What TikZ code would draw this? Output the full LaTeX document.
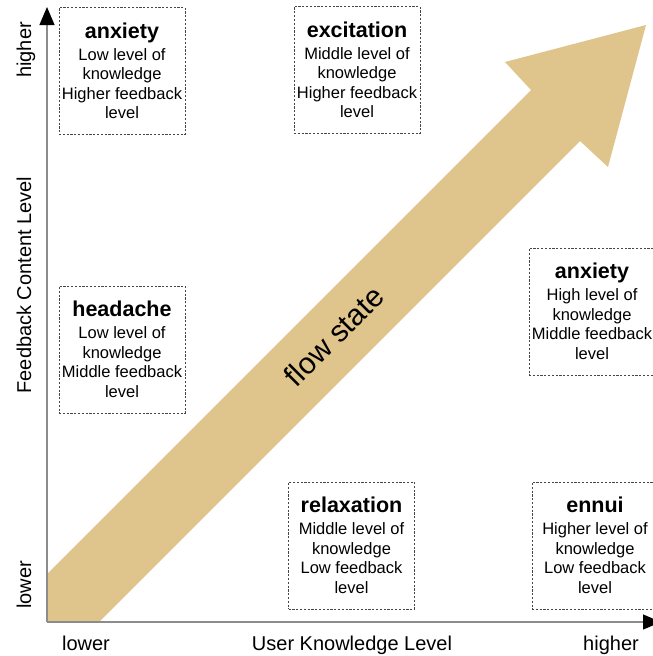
\documentclass[tikz,border=0pt]{standalone}
\usepackage{fontspec}
\setmainfont{Liberation Sans}
\usetikzlibrary{arrows.meta}

\definecolor{flowtan}{RGB}{223,196,139}
\definecolor{axisgray}{RGB}{140,140,140}
\definecolor{boxgray}{RGB}{70,70,70}

\newcommand{\stitle}[1]{{\fontsize{21.5}{23}\selectfont\bfseries #1}}

\begin{document}
\begin{tikzpicture}[x=1pt,y=-1pt,
                state node/.style={draw=boxgray,line width=0.9pt,dash pattern=on 2.2pt off 1.6pt,
                  minimum width=126pt,minimum height=127pt,inner sep=0pt,align=center,
                  font=\fontsize{16.5}{19.5}\selectfont},
                axis/.style={axisgray,line width=1.2pt,-{Triangle[length=18pt,width=15pt,color=black]}},
                axis label/.style={font=\fontsize{20}{24}\selectfont}]
  \clip (0,0) rectangle (653,656);

  % the flow channel
  \fill[flowtan] (47,622) -- (47,574) -- (531,90) -- (505,62) -- (646,25)
    -- (608,167) -- (580,141) -- (99,622) -- cycle;
  \node[font=\fontsize{30}{36}\selectfont,rotate=45] (flow) at (334,336) {flow state};

  % axes
  \coordinate (O) at (47,622);
  \coordinate (ytip) at (47,7);
  \coordinate (xtip) at (661,622);
  \draw[axis] (O) -- (ytip);
  \draw[axis] (O) -- (xtip);

  \node[axis label,anchor=base] (xlow) at (86,650) {lower};
  \node[axis label,anchor=base] (xname) at (352,650) {User Knowledge Level};
  \node[axis label,anchor=base] (xhigh) at (611,650) {higher};
  \node[axis label,rotate=90,anchor=base] (ylow) at (31,585) {lower};
  \node[axis label,rotate=90,anchor=base] (yname) at (31,285) {Feedback Content Level};
  \node[axis label,rotate=90,anchor=base] (yhigh) at (31,50) {higher};

  % states
  \node[state node] (1) at (122,71) {\stitle{anxiety}\\[2.5pt]Low level of\\knowledge\\Higher feedback\\level};
  \node[state node] (2) at (357,70) {\stitle{excitation}\\[2.5pt]Middle level of\\knowledge\\Higher feedback\\level};
  \node[state node] (3) at (592,311.5) {\stitle{anxiety}\\[2.5pt]High level of\\knowledge\\Middle feedback\\level};
  \node[state node] (4) at (122,349.5) {\stitle{headache}\\[2.5pt]Low level of\\knowledge\\Middle feedback\\level};
  \node[state node] (5) at (351.5,545.5) {\stitle{relaxation}\\[2.5pt]Middle level of\\knowledge\\Low feedback\\level};
  \node[state node] (6) at (595,545.5) {\stitle{ennui}\\[2.5pt]Higher level of\\knowledge\\Low feedback\\level};
\end{tikzpicture}
\end{document}
